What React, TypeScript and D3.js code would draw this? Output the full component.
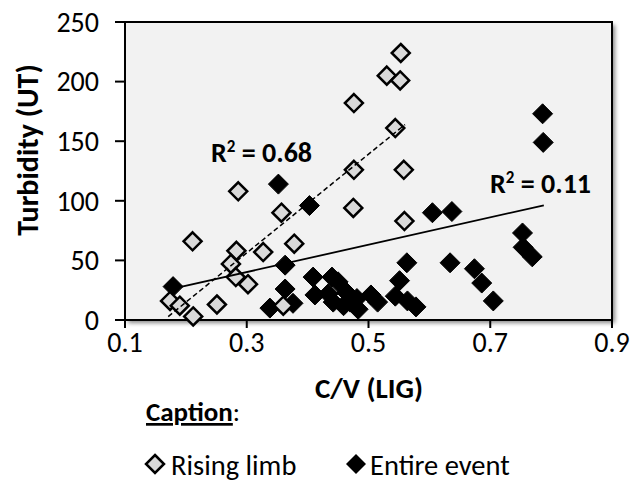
import React from "react";
import * as d3 from "d3";

const risingX = [0.553, 0.530, 0.552, 0.476, 0.544, 0.476, 0.558, 0.475, 0.559, 0.286, 0.357, 0.211, 0.283, 0.327, 0.378, 0.274, 0.282, 0.302, 0.174, 0.190, 0.212, 0.251, 0.360];
const risingY = [224, 205, 201, 182, 161, 126, 126, 94, 83, 108, 90, 66, 58, 57, 64, 47, 36, 30, 16, 12, 3, 13, 12];

const entireX = [0.786, 0.787, 0.352, 0.403, 0.605, 0.637, 0.753, 0.754, 0.769, 0.363, 0.563, 0.634, 0.674, 0.686, 0.705, 0.179, 0.363, 0.338, 0.376, 0.551, 0.544, 0.564, 0.578, 0.515, 0.504, 0.483, 0.409, 0.412, 0.440, 0.450, 0.434, 0.442, 0.464, 0.470, 0.459, 0.481];
const entireY = [173, 149, 114, 96, 90, 91, 73, 61, 53, 46, 48, 48, 43, 31, 16, 28, 26, 10, 14, 33, 20, 16, 11, 15, 21, 9, 36, 21, 36, 32, 22, 15, 23, 15, 12, 18];

// trendlines: [slope, intercept, xStart, xEnd]
const risingTrend = [414, -67.9, 0.171, 0.560];
const entireTrend = [114.7, 5.8, 0.179, 0.788];

const xTicks = [0.1, 0.3, 0.5, 0.7, 0.9];
const yTicks = [0, 50, 100, 150, 200, 250];

const FONT = "Carlito, Lato, 'Open Sans', sans-serif";

const L = 125, R = 612, T = 22, B = 320;

function diamond(cx: number, cy: number, r: number) {
  return `M${cx},${cy - r}L${cx + r},${cy}L${cx},${cy + r}L${cx - r},${cy}Z`;
}

export default function App() {
  const x = d3.scaleLinear().domain([0.1, 0.9]).range([L, R]);
  const y = d3.scaleLinear().domain([0, 250]).range([B, T]);
  const line = d3.line<[number, number]>().x((d) => x(d[0])).y((d) => y(d[1]));
  const trendPts = (t: number[]): [number, number][] => [
    [t[2], t[0] * t[2] + t[1]],
    [t[3], t[0] * t[3] + t[1]],
  ];

  return (
    <svg width={631} height={491} style={{ position: "absolute", left: 0, top: 0, background: "#fff" }} fontFamily={FONT}>
      <defs>
        <filter id="sh" x="-10%" y="-10%" width="130%" height="130%">
          <feGaussianBlur stdDeviation="2" />
        </filter>
      </defs>
      {/* shadow */}
      <rect x={L + 3} y={T + 3} width={R - L} height={B - T} fill="#888" filter="url(#sh)" />
      <rect x={L} y={T} width={R - L} height={B - T} fill="#f2f2f2" stroke="#000" strokeWidth={2} />

      {/* y ticks */}
      {yTicks.map((v) => (
        <g key={"y" + v}>
          <line x1={L - 10} x2={L} y1={y(v)} y2={y(v)} stroke="#000" strokeWidth={2} />
          <text x={99} y={y(v)} dy="0.35em" textAnchor="end" fontSize={28} fill="#000">{v}</text>
        </g>
      ))}
      {/* x ticks */}
      {xTicks.map((v) => (
        <g key={"x" + v}>
          <line x1={x(v)} x2={x(v)} y1={B} y2={B + 8} stroke="#000" strokeWidth={2} />
          <text x={x(v)} y={352} textAnchor="middle" fontSize={28} fill="#000">{v.toFixed(1)}</text>
        </g>
      ))}

      {/* entire event */}
      {entireX.map((v, i) => (
        <path key={"e" + i} d={diamond(x(v), y(entireY[i]), 10)} fill="#000" stroke="#000" strokeWidth={1} />
      ))}
      {/* rising limb */}
      {risingX.map((v, i) => (
        <path key={"r" + i} d={diamond(x(v), y(risingY[i]), 9)} fill="#d9d9d9" stroke="#000" strokeWidth={2.5} strokeLinejoin="miter" />
      ))}

      {/* trendlines */}
      <path d={line(trendPts(risingTrend)) || ""} fill="none" stroke="#000" strokeWidth={1.5} strokeDasharray="5,3" />
      <path d={line(trendPts(entireTrend)) || ""} fill="none" stroke="#000" strokeWidth={1.8} />

      {/* R2 labels */}
      <text x={211} y={162} fontSize={28} fontWeight="bold" fill="#000">
        R<tspan dy={-10} fontSize={17}>2</tspan><tspan dy={10}> = 0.68</tspan>
      </text>
      <text x={490} y={193} fontSize={28} fontWeight="bold" fill="#000">
        R<tspan dy={-10} fontSize={17}>2</tspan><tspan dy={10}> = 0.11</tspan>
      </text>

      {/* axis titles */}
      <text x={369} y={398} textAnchor="middle" fontSize={29} fontWeight="bold" fill="#000">C/V (LIG)</text>
      <text transform={`translate(38,${150}) rotate(-90)`} textAnchor="middle" fontSize={30} fontWeight="bold" fill="#000">Turbidity (UT)</text>

      {/* caption */}
      <text x={146} y={421} fontSize={27} fill="#000">
        <tspan fontWeight="bold" textDecoration="underline">Caption</tspan>:
      </text>
      <path d={diamond(155, 464, 9)} fill="#d9d9d9" stroke="#000" strokeWidth={2.5} />
      <text x={171} y={475} fontSize={28.5} fill="#000">Rising limb</text>
      <path d={diamond(356, 464, 10)} fill="#000" />
      <text x={370} y={475} fontSize={28.5} fill="#000">Entire event</text>
    </svg>
  );
}
